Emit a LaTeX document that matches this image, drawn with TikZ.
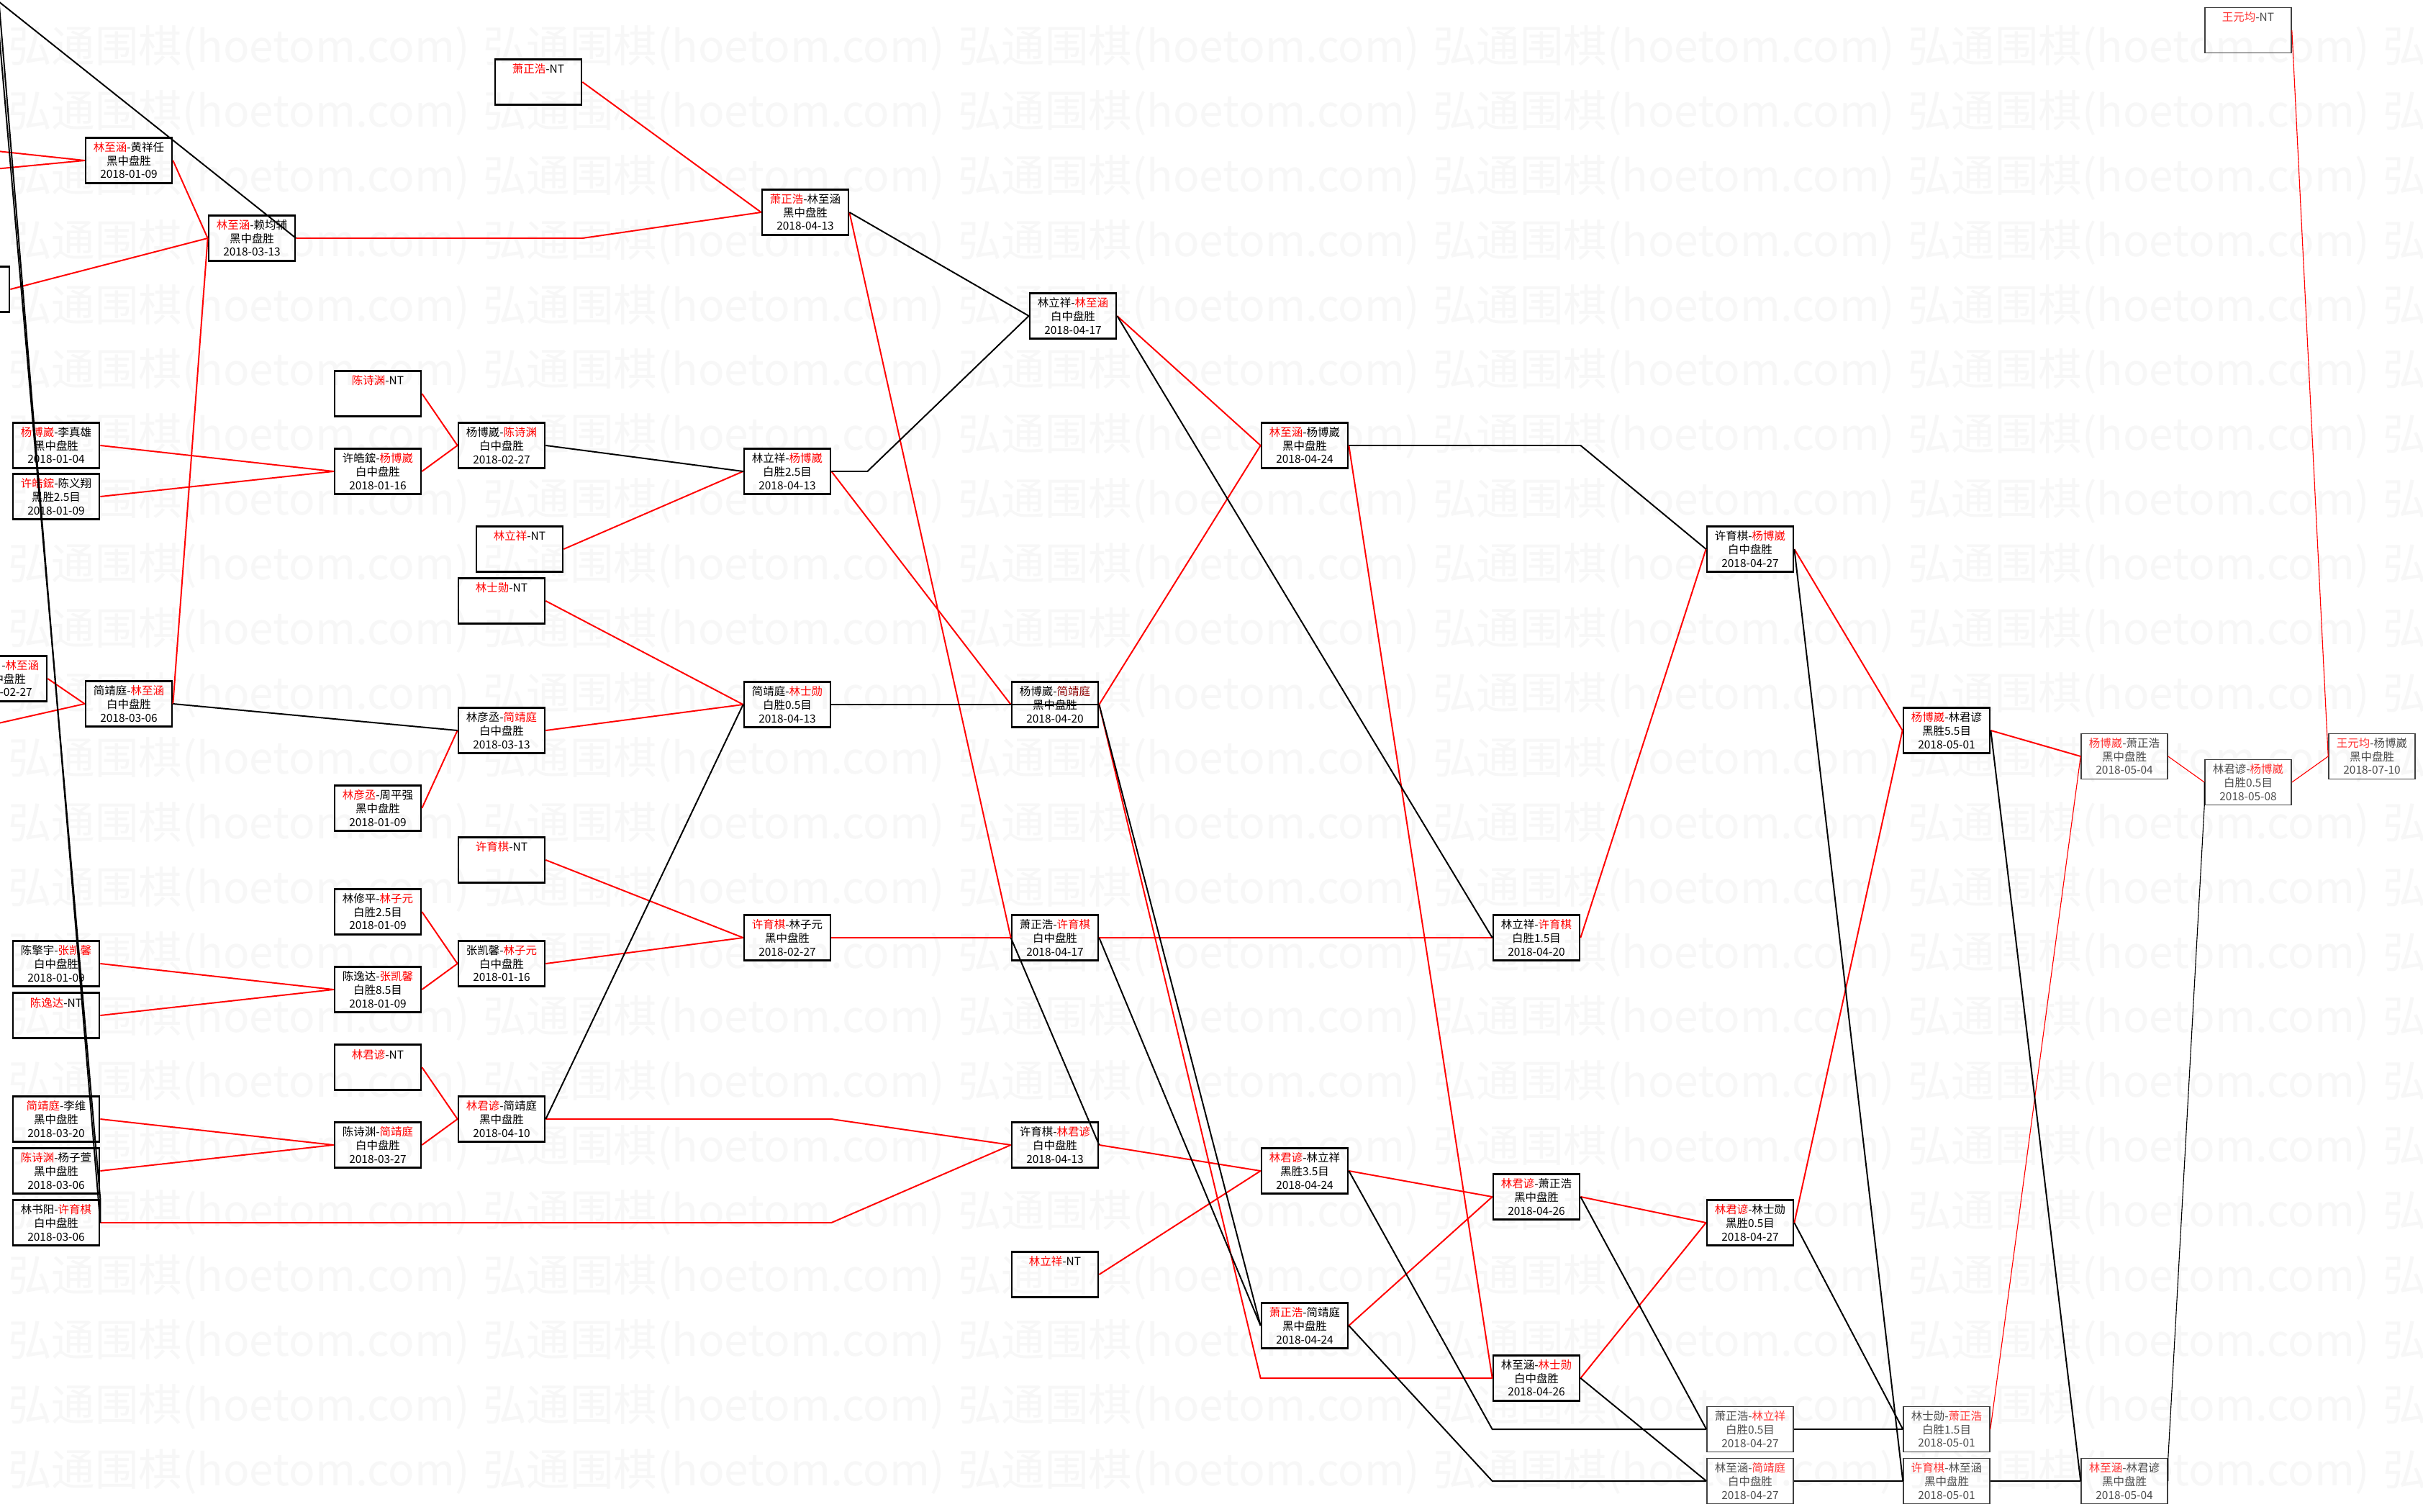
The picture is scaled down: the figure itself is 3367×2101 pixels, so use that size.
\documentclass[tikz,border=0pt]{standalone}
\usepackage{fontspec}
\newfontfamily\cjk{Noto Sans CJK SC}
\colorlet{hlc}{red}
\newcommand\hl[1]{\textcolor{hlc}{#1}}
\begin{document}
\begin{tikzpicture}[x=0.025cm,y=-0.025cm,
  game/.style={draw,line width=1.9pt,minimum width=3cm,minimum height=1.575cm,inner sep=0pt,align=center,font=\cjk\fontsize{11}{13.2}\selectfont},
  gamelt/.style={game,line width=1.1pt,draw=black!75,text=black!70,font=\cjk\fontsize{11}{13.2}\selectfont\colorlet{hlc}{red!80}},
  win/.style={red,line width=1.4pt},
  lose/.style={black,line width=1.4pt},
  winlt/.style={red,line width=0.8pt},
  loselt/.style={black,line width=0.8pt},
  wm/.style={text=black!3,font=\cjk\fontsize{43}{43}\selectfont,anchor=west,inner sep=0pt}]
\path[use as bounding box,fill=white] (0,0) rectangle (3367,2101);
\foreach \j in {0,...,22}{\foreach \k in {0,...,5}{\node[wm] at (11+660*\k,67+89.9*\j) {弘通围棋(hoetom.com)};}}
% left column
\node[game] (yl) at (78,619) {\hl{杨博崴}-李真雄\\黑中盘胜\\2018-01-04};
\node[game] (xc) at (78,690) {\hl{许皓鋐}-陈义翔\\黑胜2.5目\\2018-01-09};
\node[game] (cz) at (78,1339) {陈擎宇-\hl{张凯馨}\\白中盘胜\\2018-01-09};
\node[game] (cnt) at (78,1411) {\hl{陈逸达}-NT\\~\\~};
\node[game] (jl) at (78,1555) {\hl{简靖庭}-李维\\黑中盘胜\\2018-03-20};
\node[game] (cy) at (78,1627) {\hl{陈诗渊}-杨子萱\\黑中盘胜\\2018-03-06};
\node[game] (ls) at (78,1699) {林书阳-\hl{许育棋}\\白中盘胜\\2018-03-06};
\node[game] (px1) at (-47,402) {~\\~\\~};
\node[game] (px2) at (5,943) {\hspace*{3em}-\hl{林至涵}\\\hspace*{1em}中盘胜\\\phantom{0000}-02-27};
\node[game] (lh) at (179,223) {\hl{林至涵}-黄祥任\\黑中盘胜\\2018-01-09};
\node[game] (jlz) at (179,978) {简靖庭-\hl{林至涵}\\白中盘胜\\2018-03-06};
\node[game] (lz) at (350,331) {\hl{林至涵}-赖均辅\\黑中盘胜\\2018-03-13};
\node[game] (cnt2) at (525,547) {\hl{陈诗渊}-NT\\~\\~};
\node[game] (xy) at (525,655) {许皓鋐-\hl{杨博崴}\\白中盘胜\\2018-01-16};
\node[game] (lzq) at (525,1123) {\hl{林彦丞}-周平强\\黑中盘胜\\2018-01-09};
\node[game] (lxl) at (525,1267) {林修平-\hl{林子元}\\白胜2.5目\\2018-01-09};
\node[game] (cyz) at (525,1375) {陈逸达-\hl{张凯馨}\\白胜8.5目\\2018-01-09};
\node[game] (ljnt) at (525,1483) {\hl{林君谚}-NT\\~\\~};
\node[game] (cj) at (525,1591) {陈诗渊-\hl{简靖庭}\\白中盘胜\\2018-03-27};
\node[game] (xnt) at (748,114) {\hl{萧正浩}-NT\\~\\~};
\node[game] (yc) at (697,619) {杨博崴-\hl{陈诗渊}\\白中盘胜\\2018-02-27};
\node[game] (lxnt) at (722,763) {\hl{林立祥}-NT\\~\\~};
\node[game] (lsnt) at (697,835) {\hl{林士勋}-NT\\~\\~};
\node[game] (lj) at (697,1015) {林彦丞-\hl{简靖庭}\\白中盘胜\\2018-03-13};
\node[game] (xnt2) at (697,1195) {\hl{许育棋}-NT\\~\\~};
\node[game] (zl) at (697,1339) {张凯馨-\hl{林子元}\\白中盘胜\\2018-01-16};
\node[game] (ljj) at (697,1555) {\hl{林君谚}-简靖庭\\黑中盘胜\\2018-04-10};
% middle
\node[game] (xl) at (1119,295) {\hl{萧正浩}-林至涵\\黑中盘胜\\2018-04-13};
\node[game] (lyb) at (1094,655) {林立祥-\hl{杨博崴}\\白胜2.5目\\2018-04-13};
\node[game] (jls) at (1094,979) {简靖庭-\hl{林士勋}\\白胜0.5目\\2018-04-13};
\node[game] (xlz) at (1094,1303) {\hl{许育棋}-林子元\\黑中盘胜\\2018-02-27};
\node[game] (llz) at (1491,439) {林立祥-\hl{林至涵}\\白中盘胜\\2018-04-17};
\node[game] (ybj) at (1466,979) {杨博崴-\textcolor{red!55!black}{简靖庭}\\黑中盘胜\\2018-04-20};
\node[game] (xx) at (1466,1303) {萧正浩-\hl{许育棋}\\白中盘胜\\2018-04-17};
\node[game] (xlj) at (1466,1591) {许育棋-\hl{林君谚}\\白中盘胜\\2018-04-13};
\node[game] (llnt) at (1466,1771) {\hl{林立祥}-NT\\~\\~};
\node[game] (lyb2) at (1813,619) {\hl{林至涵}-杨博崴\\黑中盘胜\\2018-04-24};
\node[game] (ljl) at (1813,1627) {\hl{林君谚}-林立祥\\黑胜3.5目\\2018-04-24};
\node[game] (xj) at (1813,1842) {\hl{萧正浩}-简靖庭\\黑中盘胜\\2018-04-24};
\node[game] (lx) at (2135,1303) {林立祥-\hl{许育棋}\\白胜1.5目\\2018-04-20};
\node[game] (ljx) at (2135,1663) {\hl{林君谚}-萧正浩\\黑中盘胜\\2018-04-26};
\node[game] (lls) at (2135,1915) {林至涵-\hl{林士勋}\\白中盘胜\\2018-04-26};
% right
\node[game] (xyb) at (2432,763) {许育棋-\hl{杨博崴}\\白中盘胜\\2018-04-27};
\node[game] (ljs) at (2432,1699) {\hl{林君谚}-林士勋\\黑胜0.5目\\2018-04-27};
\node[gamelt] (xll) at (2432,1986) {萧正浩-\hl{林立祥}\\白胜0.5目\\2018-04-27};
\node[gamelt] (ljt) at (2432,2058) {林至涵-\hl{简靖庭}\\白中盘胜\\2018-04-27};
\node[game] (ybl) at (2705,1015) {\hl{杨博崴}-林君谚\\黑胜5.5目\\2018-05-01};
\node[gamelt] (lsx) at (2705,1986) {林士勋-\hl{萧正浩}\\白胜1.5目\\2018-05-01};
\node[gamelt] (xlzh) at (2705,2058) {\hl{许育棋}-林至涵\\黑中盘胜\\2018-05-01};
\node[gamelt] (ybx) at (2952,1051) {\hl{杨博崴}-萧正浩\\黑中盘胜\\2018-05-04};
\node[gamelt] (lzl) at (2952,2058) {\hl{林至涵}-林君谚\\黑中盘胜\\2018-05-04};
\node[gamelt] (wnt) at (3124,42) {\hl{王元均}-NT\\~\\~};
\node[gamelt] (lyb3) at (3124,1087) {林君谚-\hl{杨博崴}\\白胜0.5目\\2018-05-08};
\node[gamelt] (wy) at (3296,1051) {\hl{王元均}-杨博崴\\黑中盘胜\\2018-07-10};
% loose ends off the page
\coordinate (inA) at (-60,204);
\coordinate (inB) at (-60,240);
\coordinate (inC) at (-60,1018);
\coordinate (outA) at (-100,-76);
\coordinate (outB) at (-10,-100);
\coordinate (outC) at (-14,-100);
% winners
\draw[win] (inA) -- (lh.west);
\draw[win] (inB) -- (lh.west);
\draw[win] (lh.east) -- (lz.west);
\draw[win] (px1.east) -- (lz.west);
\draw[win] (jlz.east) -- (lz.west);
\draw[win] (lz.east) -- (lz.east -| xnt.east) -- (xl.west);
\draw[win] (xnt.east) -- (xl.west);
\draw[win] (px2.east) -- (jlz.west);
\draw[win] (inC) -- (jlz.west);
\draw[win] (cnt2.east) -- (yc.west);
\draw[win] (yl.east) -- (xy.west);
\draw[win] (xc.east) -- (xy.west);
\draw[win] (xy.east) -- (yc.west);
\draw[win] (lxnt.east) -- (lyb.west);
\draw[win] (lyb.east) -- (ybj.west);
\draw[win] (xl.east) -- (xx.west);
\draw[win] (llz.east) -- (lyb2.west);
\draw[win] (ybj.east) -- (lyb2.west);
\draw[win] (lyb2.east) -- (lls.west);
\draw[win] (ybj.east) -- (lls.west -| xj.west) -- (lls.west);
\draw[win] (lsnt.east) -- (jls.west);
\draw[win] (lj.east) -- (jls.west);
\draw[win] (lzq.east) -- (lj.west);
\draw[win] (xnt2.east) -- (xlz.west);
\draw[win] (zl.east) -- (xlz.west);
\draw[win] (lxl.east) -- (zl.west);
\draw[win] (cyz.east) -- (zl.west);
\draw[win] (cz.east) -- (cyz.west);
\draw[win] (cnt.east) -- (cyz.west);
\draw[win] (xlz.east) -- (xx.west);
\draw[win] (xx.east) -- (lx.west);
\draw[win] (lx.east) -- (xyb.west);
\draw[win] (ljnt.east) -- (ljj.west);
\draw[win] (cj.east) -- (ljj.west);
\draw[win] (jl.east) -- (cj.west);
\draw[win] (cy.east) -- (cj.west);
\draw[win] (ljj.east) -- (ljj.east -| xlz.east) -- (xlj.west);
\draw[win] (ls.east) -- (ls.east -| xlz.east) -- (xlj.west);
\draw[win] (xlj.east) -- (ljl.west);
\draw[win] (llnt.east) -- (ljl.west);
\draw[win] (ljl.east) -- (ljx.west);
\draw[win] (xj.east) -- (ljx.west);
\draw[win] (ljx.east) -- (ljs.west);
\draw[win] (lls.east) -- (ljs.west);
\draw[win] (ljs.east) -- (ybl.west);
\draw[win] (xyb.east) -- (ybl.west);
\draw[win] (ybl.east) -- (ybx.west);
\draw[winlt] (lsx.east) -- (ybx.west);
\draw[winlt] (ybx.east) -- (lyb3.west);
\draw[winlt] (lyb3.east) -- (wy.west);
\draw[winlt] (wnt.east) -- (wy.west);
% losers
\draw[lose] (lz.east) -- (outA);
\draw[lose] (ls.east) -- (outB);
\draw[lose] (ls.east) -- (ls.north east) -- (outC);
\draw[lose] (yc.east) -- (lyb.west);
\draw[lose] (lyb.east) -- ++(50,0) -- (llz.west);
\draw[lose] (xl.east) -- (llz.west);
\draw[lose] (llz.east) -- (lx.west);
\draw[lose] (lyb2.east) -- (lyb2.east -| lx.east) -- (xyb.west);
\draw[lose] (jls.east) -- (ybj.east);
\draw[lose] (ybj.east) -- (xj.west);
\draw[lose] (jlz.east) -- (lj.west);
\draw[lose] (ljj.east) -- (jls.west);
\draw[lose] (xlj.east) -- (xx.west);
\draw[lose] (xx.east) -- (xj.west);
\draw[lose] (ljl.east) -- (xll.west -| lls.west) -- (xll.west);
\draw[lose] (xj.east) -- (ljt.west -| lls.west) -- (ljt.west);
\draw[lose] (ljx.east) -- (xll.west);
\draw[lose] (lls.east) -- (ljt.west);
\draw[lose] (ljs.east) -- (lsx.west);
\draw[lose] (xyb.east) -- (xlzh.west);
\draw[lose] (ybl.east) -- (lzl.west);
\draw[loselt] (xll.east) -- (lsx.west);
\draw[loselt] (ljt.east) -- (xlzh.west);
\draw[loselt] (xlzh.east) -- (lzl.west);
\draw[loselt] (lzl.east) -- (lzl.north east) -- (lyb3.south west) -- (lyb3.west);
\end{tikzpicture}
\end{document}
